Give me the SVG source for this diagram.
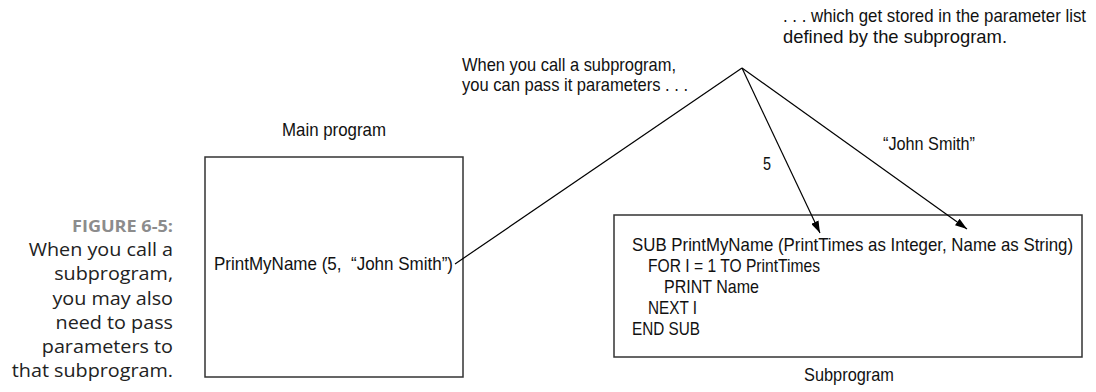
<svg xmlns="http://www.w3.org/2000/svg" width="1096" height="392" viewBox="0 0 1096 392">
<style>
.t{font-family:"Liberation Sans",Arial,sans-serif;font-size:18px;fill:#111}
.cap{font-family:"Open Sans","Noto Sans",sans-serif;font-size:17.5px;fill:#222;text-anchor:end}
.fig{font-family:"Open Sans","Noto Sans",sans-serif;font-size:16px;font-weight:bold;fill:#8c8c8c;text-anchor:end}
.box{fill:#fff;stroke:#333;stroke-width:1.5}
.ln{fill:none;stroke:#000;stroke-width:1.2}
</style>
<defs>
<marker id="ah" viewBox="0 0 12 8" refX="12" refY="4" markerWidth="12" markerHeight="8" markerUnits="userSpaceOnUse" orient="auto">
<path d="M0,0 L12,4 L0,8 Z" fill="#000"/>
</marker>
</defs>
<rect width="1096" height="392" fill="#fff"/>
<g id="caption">
<text class="fig" transform="translate(173,232) scale(1.13,1)">FIGURE 6-5:</text>
<text class="cap" transform="translate(173,256) scale(1.13,1)">When you call a</text>
<text class="cap" transform="translate(173,280) scale(1.13,1)">subprogram,</text>
<text class="cap" transform="translate(173,304.5) scale(1.13,1)">you may also</text>
<text class="cap" transform="translate(173,328.5) scale(1.13,1)">need to pass</text>
<text class="cap" transform="translate(173,353) scale(1.13,1)">parameters to</text>
<text class="cap" transform="translate(173,377) scale(1.13,1)">that subprogram.</text>
</g>
<g id="main-program">
<rect class="box" x="205" y="157" width="258" height="220"/>
<text class="t" transform="translate(282,136) scale(0.8,1)" textLength="130" lengthAdjust="spacingAndGlyphs">Main program</text>
<text class="t" transform="translate(214,270) scale(0.8,1)" textLength="298.75" lengthAdjust="spacingAndGlyphs">PrintMyName (5,&#160; “John Smith”)</text>
</g>
<g id="subprogram">
<rect class="box" x="614" y="215" width="468" height="142"/>
<text class="t" transform="translate(632,251) scale(0.8,1)" textLength="551.25" lengthAdjust="spacingAndGlyphs">SUB PrintMyName (PrintTimes as Integer, Name as String)</text>
<text class="t" transform="translate(648,272) scale(0.8,1)" textLength="215" lengthAdjust="spacingAndGlyphs">FOR I = 1 TO PrintTimes</text>
<text class="t" transform="translate(664,293) scale(0.8,1)" textLength="118.75" lengthAdjust="spacingAndGlyphs">PRINT Name</text>
<text class="t" transform="translate(648,314) scale(0.8,1)" textLength="61.25" lengthAdjust="spacingAndGlyphs">NEXT I</text>
<text class="t" transform="translate(632,335) scale(0.8,1)" textLength="85" lengthAdjust="spacingAndGlyphs">END SUB</text>
<text class="t" transform="translate(804,381) scale(0.8,1)" textLength="112.5" lengthAdjust="spacingAndGlyphs">Subprogram</text>
</g>
<g id="note-call">
<text class="t" transform="translate(462,71) scale(0.8,1)" textLength="267.5" lengthAdjust="spacingAndGlyphs">When you call a subprogram,</text>
<text class="t" transform="translate(462,91) scale(0.8,1)" textLength="282.5" lengthAdjust="spacingAndGlyphs">you can pass it parameters . . .</text>
</g>
<g id="note-stored">
<text class="t" transform="translate(783,22) scale(0.8,1)" textLength="378.75" lengthAdjust="spacingAndGlyphs">. . . which get stored in the parameter list</text>
<text class="t" transform="translate(783,42.5) scale(0.8,1)" textLength="280" lengthAdjust="spacingAndGlyphs">defined by the subprogram.</text>
</g>
<g id="connectors">
<line class="ln" x1="742" y1="68" x2="455" y2="264"/>
<line class="ln" x1="742" y1="68" x2="820" y2="233" marker-end="url(#ah)"/>
<line class="ln" x1="742" y1="68" x2="967" y2="229" marker-end="url(#ah)"/>
<text class="t" transform="translate(763,170) scale(0.8,1)">5</text>
<text class="t" transform="translate(883,150) scale(0.8,1)" textLength="115" lengthAdjust="spacingAndGlyphs">“John Smith”</text>
</g>
</svg>
